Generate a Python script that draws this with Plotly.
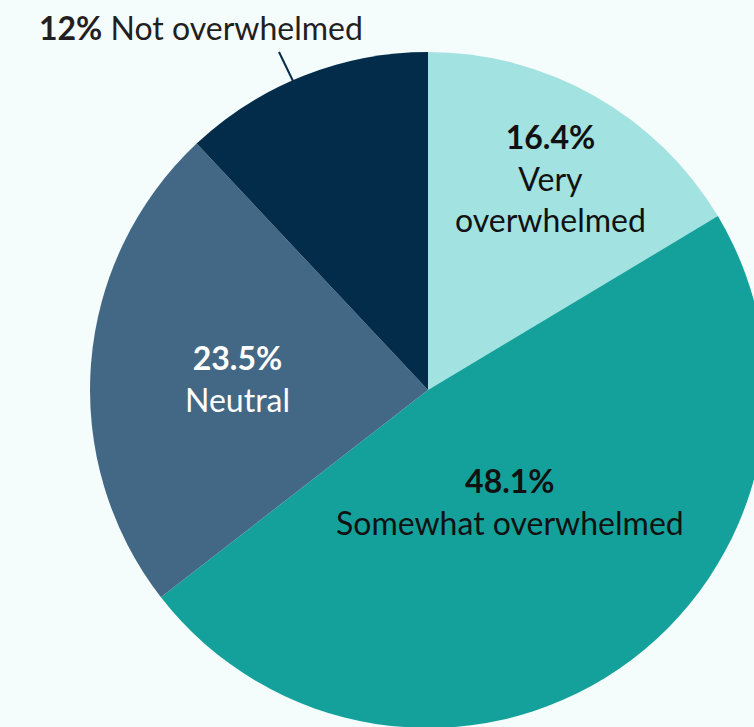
import plotly.graph_objects as go

# Survey responses: how overwhelmed respondents feel
categories = ["Very overwhelmed", "Somewhat overwhelmed", "Neutral", "Not overwhelmed"]
shares = [16.4, 48.1, 23.5, 12]
slice_colors = ["#a2e2e0", "#15a19b", "#436885", "#032c4a"]

# Canvas is larger than the viewport so the pie bleeds off the right and bottom edges
W, H = 856, 780
CX, CY, R = 428, 390, 338
BG = "#f5fcfc"
FONT = "Lato, 'Open Sans', sans-serif"
FS = 32


def px(x):
    return x / W


def py(y):
    return 1 - y / H


fig = go.Figure(
    go.Pie(
        labels=categories,
        values=shares,
        marker=dict(colors=slice_colors, line=dict(width=0)),
        sort=False,
        direction="clockwise",
        rotation=0,
        textinfo="none",
        hoverinfo="label+percent",
        showlegend=False,
        domain=dict(x=[0, 1], y=[py(CY + R), py(CY - R)]),
    )
)


def fmt(v):
    return f"{v:g}%"


# In-slice labels: (category index, centre x, centre y, text colour, name line breaks)
inside = [
    (0, 550, 178, "#111111", "Very<br>overwhelmed"),
    (1, 510, 501, "#111111", "Somewhat overwhelmed"),
    (2, 237, 378, "#ffffff", "Neutral"),
]
annotations = []
for i, x, y, col, name in inside:
    annotations.append(
        dict(
            x=px(x), y=py(y), xref="paper", yref="paper",
            text=f"<b>{fmt(shares[i])}</b><br>{name}",
            showarrow=False, xanchor="center", yanchor="middle",
            font=dict(family=FONT, size=FS, color=col),
            align="center",
        )
    )

# Outside label for the smallest slice, with a leader line to its edge
annotations.append(
    dict(
        x=px(37), y=py(28), xref="paper", yref="paper",
        text=f"<b>{fmt(shares[3])}</b> {categories[3]}",
        showarrow=False, xanchor="left", yanchor="middle",
        font=dict(family=FONT, size=FS, color="#231f20"),
    )
)

fig.update_layout(
    width=W,
    height=H,
    margin=dict(l=0, r=0, t=0, b=0),
    paper_bgcolor=BG,
    plot_bgcolor=BG,
    annotations=annotations,
    shapes=[
        dict(
            type="line", xref="paper", yref="paper",
            x0=px(279), y0=py(52), x1=px(293), y1=py(81),
            line=dict(color="#032c4a", width=2),
        )
    ],
)

fig.write_html(
    "out.html",
    post_script="document.body.style.margin='0';document.body.style.overflow='hidden';"
    "document.documentElement.style.overflow='hidden';",
)
